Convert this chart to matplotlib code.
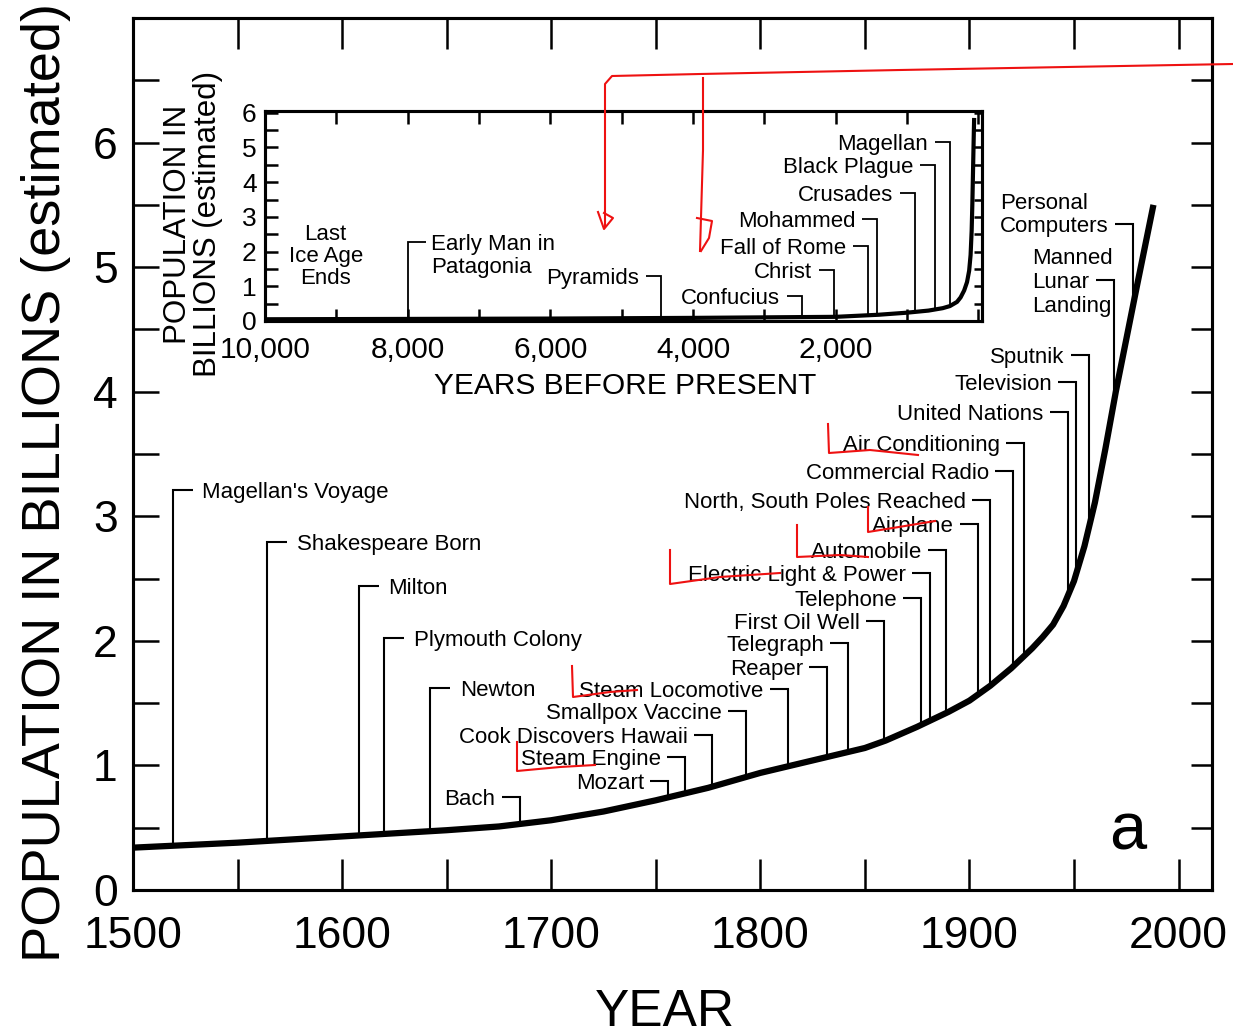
import numpy as np
import matplotlib.pyplot as plt
from matplotlib.lines import Line2D
from matplotlib.ticker import FixedLocator, FuncFormatter

plt.rcParams['font.family'] = ['Liberation Sans', 'DejaVu Sans']

# world population, main panel (year, billions)
years = [1500, 1550, 1600, 1650, 1675, 1700, 1725, 1750, 1775, 1800, 1825, 1850, 1860,
         1875, 1890, 1900, 1910, 1920, 1925, 1930, 1935, 1940, 1945, 1950, 1955, 1960,
         1965, 1970, 1975, 1980, 1988]
population = [0.34, 0.38, 0.43, 0.48, 0.51, 0.56, 0.63, 0.72, 0.82, 0.94, 1.04, 1.14, 1.2,
              1.31, 1.43, 1.52, 1.64, 1.78, 1.86, 1.94, 2.03, 2.13, 2.28, 2.48, 2.76, 3.11,
              3.54, 4.0, 4.42, 4.84, 5.5]

# inset (years before present, billions)
bp_years = [10000, 8000, 6000, 4000, 2000, 1400, 1000, 700, 500, 400, 300, 250, 200,
            160, 130, 110, 95, 85, 75, 65, 60]
bp_population = [0.05, 0.06, 0.07, 0.09, 0.12, 0.18, 0.24, 0.3, 0.37, 0.43, 0.55, 0.68,
                 0.88, 1.12, 1.45, 1.9, 2.6, 3.4, 4.4, 5.4, 5.85]

# events labelled to the right of their marker
left_names = ["Magellan's Voyage", "Shakespeare Born", "Milton", "Plymouth Colony", "Newton"]
left_years = [1519, 1564, 1608, 1620, 1642]
left_levels = [3.21, 2.79, 2.44, 2.02, 1.62]

# events labelled to the left of their marker
right_names = ["Bach", "Mozart", "Steam Engine", "Cook Discovers Hawaii", "Smallpox Vaccine",
               "Steam Locomotive", "Reaper", "Telegraph", "First Oil Well", "Telephone",
               "Electric Light & Power", "Automobile", "Airplane", "North, South Poles Reached",
               "Commercial Radio", "Air Conditioning", "United Nations", "Television",
               "Sputnik", "Manned\nLunar\nLanding", "Personal\nComputers"]
right_years = [1685, 1756, 1764, 1777, 1793, 1813, 1832, 1842, 1859, 1877, 1881, 1889,
               1904, 1910, 1921, 1926, 1947, 1951, 1957, 1969, 1978]
right_levels = [0.744, 0.872, 1.064, 1.248, 1.44, 1.616, 1.792, 1.984, 2.16, 2.344, 2.544,
                2.728, 2.936, 3.128, 3.36, 3.592, 3.84, 4.08, 4.296, 4.896, 5.344]

inset_names = ["Pyramids", "Confucius", "Christ", "Fall of Rome", "Mohammed", "Crusades",
               "Black Plague", "Magellan"]
inset_bp = [4450, 2470, 2020, 1550, 1420, 890, 610, 400]
inset_levels = [1.31, 0.71, 1.46, 2.17, 2.94, 3.69, 4.49, 5.17]

W, H = 1233, 1036
FS = 16
LINE = 17

fig = plt.figure(figsize=(W / 100, H / 100), dpi=100)
ax = fig.add_axes([133 / W, 1 - 890 / H, (1212 - 133) / W, (890 - 18) / H])
ax.set_xlim(1500, 2016)
ax.set_ylim(0, 7)
ax_r = ax.twinx()
ax_r.set_ylim(0, 7)
ins = fig.add_axes([265 / W, 1 - 321 / H, (982 - 265) / W, (321 - 111) / H])
ins.set_xlim(10000, -50)
ins.set_ylim(0, 6.05)
ins_r = ins.twinx()
ins_r.set_ylim(0, 6.05)

for a in (ax, ax_r, ins, ins_r):
    for s in a.spines.values():
        s.set_linewidth(2.2)

# ticks, main panel
ax.xaxis.set_major_locator(FixedLocator(np.arange(1500, 2001, 50)))
ax.xaxis.set_major_formatter(FuncFormatter(lambda v, p: f'{int(v)}' if v % 100 == 0 else ''))
ax.tick_params(axis='x', direction='in', top=True, length=22, width=1.8, labelsize=32, pad=19)
yt = np.arange(0, 7, 0.5)
ax.yaxis.set_major_locator(FixedLocator(yt))
ax.yaxis.set_major_formatter(FuncFormatter(lambda v, p: f'{int(v)}' if v % 1 == 0 else ''))
ax.tick_params(axis='y', direction='in', length=19, width=1.8, labelsize=32, pad=11)
ax_r.yaxis.set_major_locator(FixedLocator(yt))
ax_r.tick_params(axis='y', direction='in', length=15, width=1.8, labelright=False)

# ticks, inset
ins.set_facecolor('white')
ins.xaxis.set_major_locator(FixedLocator(np.arange(0, 10001, 1000)))
ins.xaxis.set_major_formatter(FuncFormatter(lambda v, p: f'{int(v):,}' if v >= 2000 and v % 2000 == 0 else ''))
ins.tick_params(axis='x', direction='in', top=True, length=9, width=1.8, labelsize=21.5, pad=11)
yi = np.arange(0, 6.01, 0.5)
ins.yaxis.set_major_locator(FixedLocator(yi))
ins.yaxis.set_major_formatter(FuncFormatter(lambda v, p: f'{int(v)}' if v % 1 == 0 else ''))
ins.tick_params(axis='y', direction='in', length=9.5, width=1.8, labelsize=19, pad=6)
ins_r.yaxis.set_major_locator(FixedLocator(yi))
ins_r.tick_params(axis='y', direction='in', length=6, width=1.8, labelright=False)

# curves
ax.plot(years, population, color='k', lw=4.5, solid_capstyle='butt',
        solid_joinstyle='round', zorder=3)
ins.plot(bp_years, bp_population, color='k', lw=3, solid_capstyle='butt',
         solid_joinstyle='round', zorder=3)

renderer = fig.canvas.get_renderer()


def put_label(a, text, x, y, side, gap):
    lines = text.split('\n')
    k = 1 if (len(lines) > 1 and side == 'right') else 0
    ha = 'right' if side == 'right' else 'left'
    dx = -gap if side == 'right' else gap
    base = -0.36 * FS
    t = a.annotate(lines[k], xy=(x, y), xytext=(dx, base), textcoords='offset points',
                   ha=ha, va='baseline', fontsize=FS)
    if len(lines) > 1:
        bb = t.get_window_extent(renderer)
        px = a.transData.transform((x, y))[0]
        left_pt = (bb.x0 - px) * 72 / fig.dpi
        for i, ln in enumerate(lines):
            if i == k:
                continue
            a.annotate(ln, xy=(x, y), xytext=(left_pt, base - (i - k) * LINE),
                       textcoords='offset points', ha='left', va='baseline', fontsize=FS)


def event(a, name, x, level, low, side, hook_px, gap, lw):
    px, py = a.transData.transform((x, level))
    sgn = -1 if side == 'right' else 1
    hx = a.transData.inverted().transform((px + sgn * hook_px, py))[0]
    a.plot([hx, x, x], [level, level, low], color='k', lw=lw, solid_joinstyle='miter',
           solid_capstyle='butt', zorder=2)
    put_label(a, name, hx, level, side, gap)


for n, yr, lv in zip(left_names, left_years, left_levels):
    event(ax, n, yr, lv, np.interp(yr, years, population), 'left', 20, 7, 1.5)
for n, yr, lv in zip(right_names, right_years, right_levels):
    event(ax, n, yr, lv, np.interp(yr, years, population), 'right', 18, 4.5, 1.5)

bp_inc = bp_years[::-1]
pop_inc = bp_population[::-1]
for n, b, lv in zip(inset_names, inset_bp, inset_levels):
    event(ins, n, b, lv, np.interp(b, bp_inc, pop_inc), 'right', 15, 5, 1.3)
event(ins, "Early Man in\nPatagonia", 8000, 2.29, np.interp(8000, bp_inc, pop_inc), 'left', 18, 4, 1.3)
ins.text(9150, 1.86, "Last\nIce Age\nEnds", ha='center', va='center', fontsize=FS,
         multialignment='center', linespacing=1.05)

ax.text(1975.5, 0.46, 'a', ha='center', va='center', fontsize=48)

# axis titles
fig.text(46 / W, 1 - 483 / H, 'POPULATION IN BILLIONS (estimated)', rotation=90,
         ha='center', va='center', fontsize=39)
fig.text(665 / W, 1 - 1013 / H, 'YEAR', ha='center', va='center', fontsize=37)
fig.text(625 / W, 1 - 386 / H, 'YEARS BEFORE PRESENT', ha='center', va='center', fontsize=21.5)
fig.text(193 / W, 1 - 224 / H, 'POPULATION IN\nBILLIONS (estimated)', rotation=90,
         ha='center', va='center', fontsize=22.5, linespacing=1.0)

# hand-drawn red marks on top of the scan (figure pixels from top-left)
red_marks = [
    [(1233, 64), (900, 70), (700, 74), (612, 76), (605, 84), (605, 226)],
    [(598, 212), (604, 229), (613, 218), (604, 213)],
    [(703, 78), (703, 150), (700, 251)],
    [(697, 218), (712, 221), (709, 238), (701, 251)],
    [(828, 424), (829, 453), (870, 450), (918, 455)],
    [(868, 507), (868, 532), (905, 526), (935, 521)],
    [(797, 525), (797, 557), (840, 555), (868, 557)],
    [(670, 550), (670, 584), (720, 577), (780, 573)],
    [(572, 666), (573, 697), (610, 692), (637, 690)],
    [(517, 742), (517, 771), (560, 767), (595, 765)],
]
for stroke in red_marks:
    xs = [p[0] / W for p in stroke]
    ys = [1 - p[1] / H for p in stroke]
    fig.add_artist(Line2D(xs, ys, transform=fig.transFigure, color='#ee1111', lw=1.5))

fig.savefig('out.png', dpi=100)
